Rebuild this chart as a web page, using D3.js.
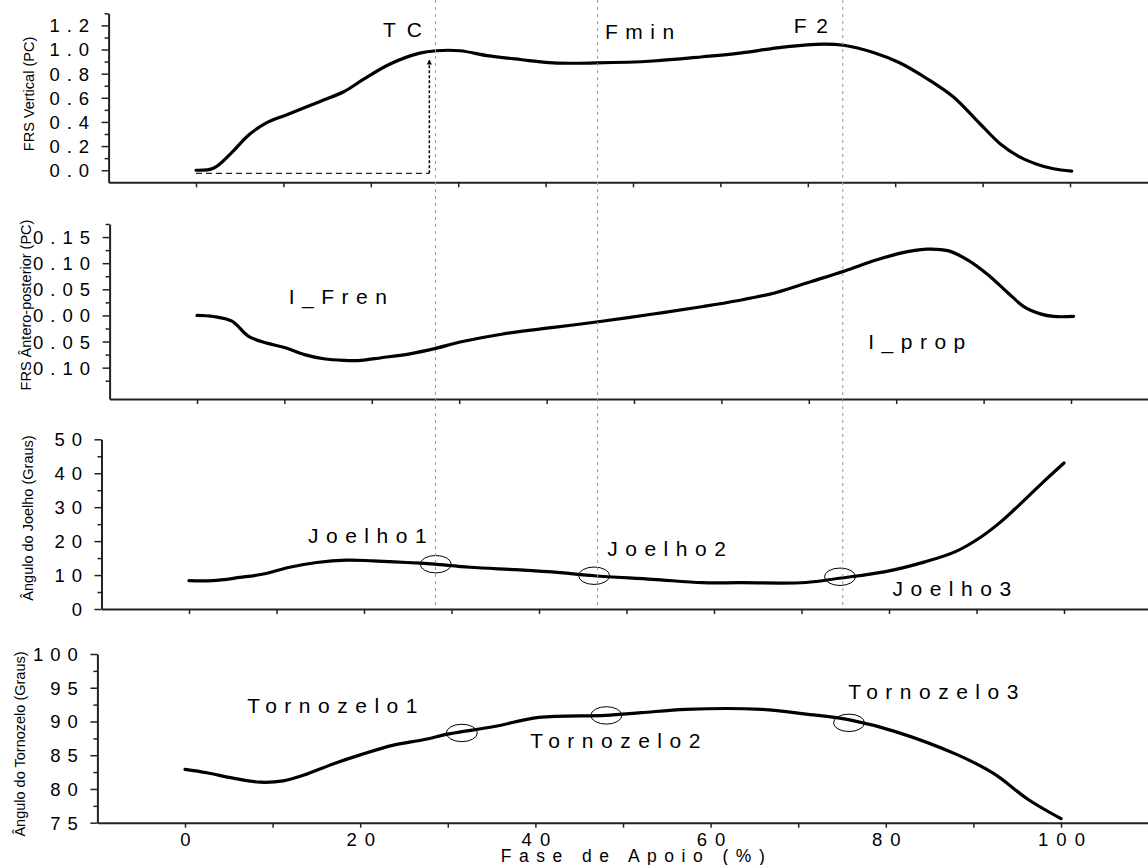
<!DOCTYPE html>
<html>
<head>
<meta charset="utf-8">
<script src="https://cdn.jsdelivr.net/npm/d3@7"></script>
<style>
  body { margin: 0; background: #fff; }
  svg { display: block; font-family: Arial, "Liberation Sans", sans-serif; }
  .axis path, .axis line { stroke: #222; }
  .axis path { stroke-width: 2; }
  .axis line { stroke-width: 1.5; }
  .axis text { fill: #000; }
</style>
</head>
<body>
<svg id="chart"></svg>
<script>
// % of stance phase vs value
const frsVertical = [[0,0.0],[2.0,0.017],[4,0.14],[6.0,0.29],[8.0,0.39],[10.4,0.46],[14.2,0.57],[16.9,0.65],
  [19.1,0.75],[22.2,0.88],[25.6,0.97],[27.5,0.99],[30.2,0.99],[33.3,0.95],[37.1,0.917],[40.9,0.889],
  [45.8,0.889],[52.3,0.905],[58.0,0.94],[62.2,0.97],[67.2,1.02],[71.8,1.045],[74.1,1.035],[77.5,0.975],
  [80.5,0.89],[83.6,0.76],[86.6,0.61],[89.7,0.385],[92.0,0.22],[94.3,0.108],[96.2,0.05],[98.1,0.012],[100.2,-0.008]];

const frsAntero = [[0,0],[1.9,-0.002],[4.0,-0.011],[5.9,-0.040],[8.0,-0.053],[10.1,-0.062],[12.3,-0.075],
  [14.5,-0.083],[16.8,-0.086],[18.8,-0.086],[21.1,-0.081],[24.5,-0.073],[27.3,-0.063],[30.1,-0.051],
  [35.0,-0.0355],[40.8,-0.023],[45.7,-0.0126],[52.2,0.0027],[57.9,0.017],[61.8,0.028],[66.1,0.043],
  [70.3,0.065],[74.1,0.085],[77.9,0.107],[81.3,0.122],[83.6,0.127],[85.9,0.124],[88.2,0.106],[90.5,0.078],
  [92.8,0.043],[94.6,0.017],[96.5,0.003],[98.0,-0.002],[100.3,-0.002]];

const joelho = [[0,8.35],[2.7,8.35],[5.8,9.3],[8.5,10.3],[11.5,12.3],[14.6,13.7],[18.0,14.4],[21.0,14.2],
  [26.4,13.5],[28.1,13.2],[32.1,12.3],[37.8,11.5],[42.4,10.7],[46.3,9.8],[53.0,8.75],[58.7,7.75],[62.9,7.75],
  [70.5,7.8],[74.3,9.05],[79.6,11.0],[84.2,13.95],[87.6,16.9],[90.3,20.85],[92.6,25.3],[94.9,30.7],
  [97.5,37.1],[100.0,43.0]];

const tornozelo = [[0,82.9],[2.5,82.4],[5.5,81.6],[8.6,81.0],[11.2,81.2],[13.9,82.2],[16.9,83.7],[20.0,85.05],
  [23.8,86.5],[27.2,87.3],[30.3,88.2],[35.3,89.25],[40.4,90.6],[48.0,90.9],[52.1,91.3],[57.2,91.8],
  [65.8,91.8],[70.9,91.1],[76.0,90.2],[81.1,88.5],[88.2,85.05],[92.3,82.3],[96.3,78.4],[100.0,75.6]];

// circled points
const joelhoMarks = [[28.2,13.2],[46.3,9.8],[74.4,9.5]];
const tornozeloMarks = [[31.6,88.3],[48.1,90.9],[75.8,89.8]];

// events (dotted verticals) and the TC arrow
const events = [['TC',27.4],['Fmin',45.95],['F2',74.0]];
const arrowBase = [[0,-0.026],[26.7,-0.026]];
const arrowRise = [[26.7,-0.026],[26.7,0.913]];

// labels in the plots
const vertNotes = [['TC',21.4,1.10],['Fmin',46.8,1.085],['F2',68.4,1.134]];
const anteroNotes = [['I_Fren',10.5,0.0223],['I_prop',76.8,-0.065]];
const joelhoNotes = [['Joelho1',13.6,19.5],['Joelho2',47.8,15.6],['Joelho3',80.4,3.8]];
const tornozeloNotes = [['Tornozelo1',7.1,91.3],['Tornozelo2',39.4,86.1],['Tornozelo3',75.7,93.4]];

// ticks
const xTicks = [0,10,20,30,40,50,60,70,80,90,100];
const xLabels = [0,20,40,60,80,100];
const vertMajor = [0,0.2,0.4,0.6,0.8,1.0,1.2];
const vertMinor = [0.1,0.3,0.5,0.7,0.9,1.1,1.3];
const anteroMajor = [-0.10,-0.05,0,0.05,0.10,0.15];
const anteroMinor = [-0.125,-0.075,-0.025,0.025,0.075,0.125,0.175];
const joelhoMajor = [0,10,20,30,40,50];
const joelhoMinor = [5,15,25,35,45];
const tornozeloMajor = [75,80,85,90,95,100];
const tornozeloMinor = [77.5,82.5,87.5,92.5,97.5];

const W = 1148, H = 865;
const svg = d3.select('#chart').attr('width', W).attr('height', H);

const panels = [
  {data: frsVertical, notes: vertNotes, x0: 196, x100: 1070, top: 13.3, bottom: 182.3, yDomain: [-0.1, 1.3],
   major: vertMajor, minor: vertMinor, fmt: d3.format('.1f'), title: 'FRS Vertical (PC)', titleX: 34, titleY: 94},
  {data: frsAntero, notes: anteroNotes, x0: 197, x100: 1071, top: 224, bottom: 399, yDomain: [-0.16, 0.175],
   major: anteroMajor, minor: anteroMinor, fmt: d => d3.format('.2f')(Math.abs(d)), title: 'FRS Ântero-posterior (PC)', titleX: 31, titleY: 305},
  {data: joelho, notes: joelhoNotes, marks: joelhoMarks, x0: 189, x100: 1064, top: 439.3, bottom: 609, yDomain: [0, 50],
   major: joelhoMajor, minor: joelhoMinor, fmt: d3.format('d'), title: 'Ângulo do Joelho (Graus)', titleX: 33, titleY: 518},
  {data: tornozelo, notes: tornozeloNotes, marks: tornozeloMarks, x0: 185, x100: 1061, top: 654, bottom: 822.7, yDomain: [75, 100],
   major: tornozeloMajor, minor: tornozeloMinor, fmt: d3.format('d'), title: 'Ângulo do Tornozelo (Graus)', titleX: 25, titleY: 744, last: true}
];

const tickLs = 7;
const noteLs = {TC: 11, F2: 9.5};

panels.forEach(p => {
  const span = p.x100 - p.x0;
  p.x = d3.scaleLinear().domain([-10, 110]).range([p.x0 - span * 0.1, p.x100 + span * 0.1]);
  p.y = d3.scaleLinear().domain(p.yDomain).range([p.bottom, p.top]);

  const g = svg.append('g');

  const xAxisG = g.append('g')
      .attr('class', 'axis')
      .attr('transform', `translate(0, ${p.bottom})`)
      .call(d3.axisBottom(p.x)
        .tickValues(xTicks)
        .tickSize(5)
        .tickSizeOuter(0)
        .tickFormat(d => (p.last && xLabels.includes(d)) ? d : ''));
  xAxisG.selectAll('text')
      .attr('font-size', 18.5)
      .attr('letter-spacing', 8)
      .attr('y', 17)
      .attr('dy', '0.35em')
      .attr('dx', 4);

  const yAxisG = g.append('g')
      .attr('class', 'axis')
      .attr('transform', `translate(${p.x(-10)}, 0)`)
      .call(d3.axisLeft(p.y)
        .tickValues(p.major)
        .tickSize(7)
        .tickSizeOuter(0)
        .tickFormat(p.fmt));
  yAxisG.selectAll('text')
      .attr('font-size', 18.5)
      .attr('letter-spacing', tickLs)
      .attr('x', -19.5 + tickLs)
      .attr('dy', '0.35em');

  const minorG = g.append('g')
      .attr('class', 'axis')
      .attr('transform', `translate(${p.x(-10)}, 0)`)
      .call(d3.axisLeft(p.y)
        .tickValues(p.minor)
        .tickSize(4)
        .tickFormat(''));
  minorG.select('.domain').remove();

  g.append('text')
      .attr('transform', `translate(${p.titleX}, ${p.titleY}) rotate(-90)`)
      .attr('text-anchor', 'middle')
      .attr('font-size', 14.5)
      .text(p.title);

  const line = d3.line()
      .x(d => p.x(d[0]))
      .y(d => p.y(d[1]))
      .curve(d3.curveCatmullRom.alpha(0.5));

  g.append('path')
      .datum(p.data)
      .attr('fill', 'none')
      .attr('stroke', '#000')
      .attr('stroke-width', 3.2)
      .attr('stroke-linejoin', 'round')
      .attr('stroke-linecap', 'round')
      .attr('d', line);

  if (p.marks) {
    g.selectAll('.mark')
        .data(p.marks)
      .join('ellipse')
        .attr('class', 'mark')
        .attr('cx', d => p.x(d[0]))
        .attr('cy', d => p.y(d[1]))
        .attr('rx', 15.5)
        .attr('ry', 8.7)
        .attr('fill', 'none')
        .attr('stroke', '#000')
        .attr('stroke-width', 1);
  }

  g.selectAll('.note')
      .data(p.notes)
    .join('text')
      .attr('class', 'note')
      .attr('x', d => p.x(d[1]))
      .attr('y', d => p.y(d[2]))
      .attr('font-size', 21)
      .attr('letter-spacing', d => noteLs[d[0]] || 7.5)
      .text(d => d[0]);
});

// dotted event lines, drawn with the top panel's scale across three panels
const p1 = panels[0];
svg.selectAll('.event')
    .data(events)
  .join('line')
    .attr('class', 'event')
    .attr('x1', d => p1.x(d[1]))
    .attr('x2', d => p1.x(d[1]))
    .attr('y1', 0)
    .attr('y2', 607)
    .attr('stroke', '#999')
    .attr('stroke-width', 1)
    .attr('stroke-dasharray', '3,4');

// TC arrow
svg.append('defs').append('marker')
    .attr('id', 'tip')
    .attr('viewBox', '0 0 10 10')
    .attr('refX', 9)
    .attr('refY', 5)
    .attr('markerWidth', 5)
    .attr('markerHeight', 6)
    .attr('orient', 'auto')
    .attr('markerUnits', 'userSpaceOnUse')
  .append('path')
    .attr('d', 'M0,0 L10,5 L0,10 Z')
    .attr('fill', '#000');

const arrowLine = d3.line().x(d => p1.x(d[0])).y(d => p1.y(d[1]));
svg.append('path')
    .attr('d', arrowLine(arrowBase))
    .attr('fill', 'none')
    .attr('stroke', '#222')
    .attr('stroke-width', 1.2)
    .attr('stroke-dasharray', '6,4');
svg.append('path')
    .attr('d', arrowLine(arrowRise))
    .attr('fill', 'none')
    .attr('stroke', '#000')
    .attr('stroke-width', 1.5)
    .attr('stroke-dasharray', '3,2')
    .attr('marker-end', 'url(#tip)');

// x axis title
svg.append('text')
    .attr('x', 633 + 3.5)
    .attr('y', 861.5)
    .attr('text-anchor', 'middle')
    .attr('font-size', 17.5)
    .attr('letter-spacing', 7.5)
    .text('Fase de Apoio (%)');
</script>
</body>
</html>
